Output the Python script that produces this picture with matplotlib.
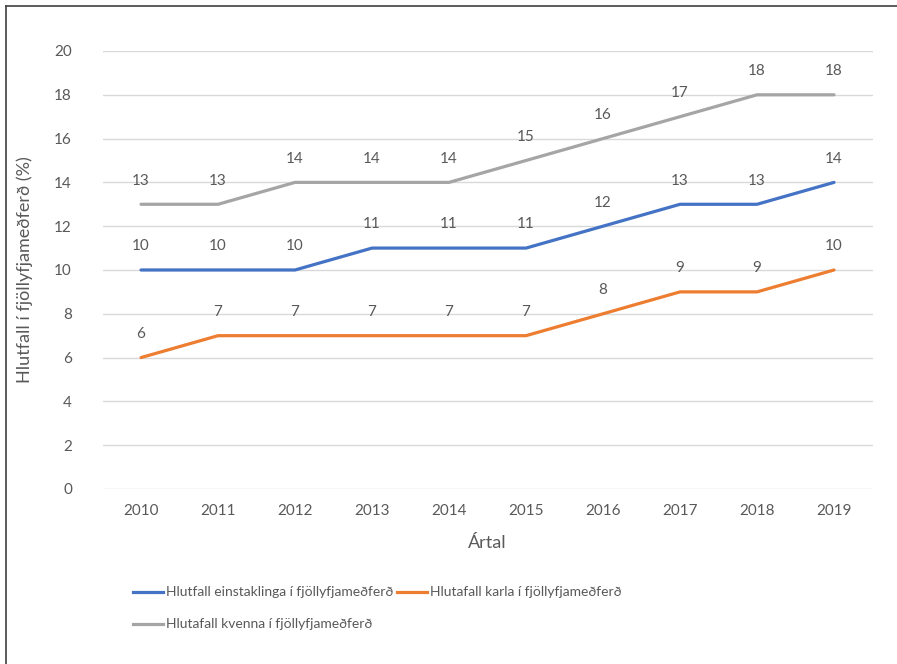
import matplotlib.pyplot as plt
from matplotlib.lines import Line2D

ar = ['2010', '2011', '2012', '2013', '2014', '2015', '2016', '2017', '2018', '2019']
einstaklingar = [10, 10, 10, 11, 11, 11, 12, 13, 13, 14]
karlar = [6, 7, 7, 7, 7, 7, 8, 9, 9, 10]
konur = [13, 13, 14, 14, 14, 15, 16, 17, 18, 18]
nofn = ['Hlutfall einstaklinga í fjöllyfjameðferð',
        'Hlutafall karla í fjöllyfjameðferð',
        'Hlutafall kvenna í fjöllyfjameðferð']
litir = ['#4472C4', '#ED7D31', '#A5A5A5']

plt.rcParams['font.family'] = ['Lato', 'DejaVu Sans']
grar = '#595959'
W, H = 897, 664

fig = plt.figure(figsize=(W / 100, H / 100), dpi=100)
ax = fig.add_axes([0.1143, 0.2636, 0.8584, 0.6596])

x = list(range(len(ar)))
for gildi, litur in zip([einstaklingar, karlar, konur], litir):
    ax.plot(x, gildi, color=litur, lw=2.3, solid_capstyle='round')
    for xi, yi in zip(x, gildi):
        ax.annotate(str(yi), (xi, yi), xytext=(0, 12), textcoords='offset points',
                    ha='center', va='bottom', fontsize=11, color=grar)

ax.set_xlim(-0.5, len(ar) - 0.5)
ax.set_ylim(0, 20)
ax.set_yticks(range(0, 21, 2))
ax.set_xticks(x)
ax.set_xticklabels(ar)
ax.grid(axis='y', color='#D9D9D9', lw=1)
ax.set_axisbelow(True)
for s in ax.spines.values():
    s.set_visible(False)
ax.tick_params(length=0, labelsize=11, labelcolor=grar, pad=11)
ax.tick_params(axis='y', pad=22)
ax.set_xlabel('Ártal', fontsize=13, color=grar, labelpad=12)
ax.set_ylabel('Hlutfall í fjöllyfjameðferð (%)', fontsize=13, color=grar)
ax.yaxis.set_label_coords(-0.09, 0.5)

# legend in two rows under the axes, second entry placed after the first text
rend = fig.canvas.get_renderer()
lx, ly = 133, 592
for i, (nafn, litur) in enumerate(zip(nofn, litir)):
    if i == 2:
        lx, ly = 133, 624
    fig.add_artist(Line2D([lx / W, (lx + 30) / W], [1 - ly / H] * 2,
                          color=litur, lw=2.3, transform=fig.transFigure))
    t = fig.text((lx + 33) / W, 1 - ly / H, nafn, fontsize=10, color=grar,
                 va='center', ha='left')
    lx = max(367, t.get_window_extent(rend).x1 + 4)

# frame edges on the left and top
fig.add_artist(Line2D([6 / W, 6 / W], [0, 1 - 6 / H], color='#404040', lw=1.2,
                      transform=fig.transFigure))
fig.add_artist(Line2D([6 / W, 1], [1 - 6 / H] * 2, color='#404040', lw=1.2,
                      transform=fig.transFigure))

fig.savefig('out.png', dpi=100)
